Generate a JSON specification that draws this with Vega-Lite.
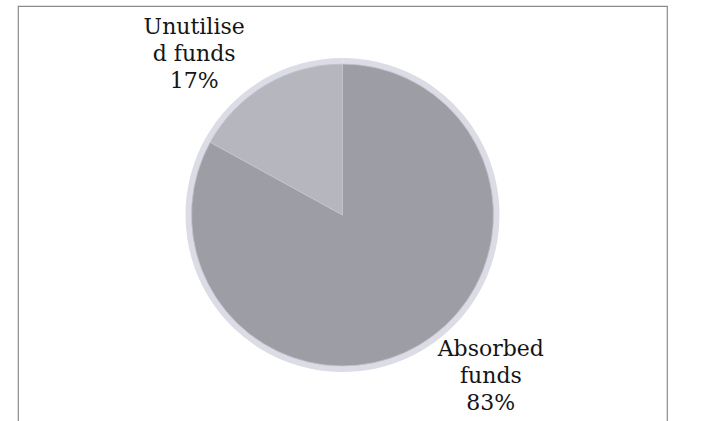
{
  "$schema": "https://vega.github.io/schema/vega-lite/v6.json",
  "width": 649,
  "height": 418,
  "padding": {"left": 18, "top": 6, "right": 55, "bottom": -3},
  "background": "white",
  "view": {"stroke": "#8a8a8a", "strokeWidth": 1.2},
  "config": {
    "text": {"font": "DejaVu Serif"}
  },
  "data": {
    "values": [
      {"category": "Absorbed funds", "label": "Absorbed\nfunds\n83%", "share": 83, "order": 1},
      {"category": "Unutilised funds", "label": "Unutilise\nd funds\n17%", "share": 17, "order": 2}
    ]
  },
  "encoding": {
    "theta": {"field": "share", "type": "quantitative", "stack": true},
    "order": {"field": "order", "type": "quantitative"}
  },
  "layer": [
    {
      "mark": {"type": "arc", "outerRadius": 157, "color": "#dcdce6"}
    },
    {
      "mark": {"type": "arc", "outerRadius": 151, "stroke": "#c4c4cc", "strokeWidth": 0.8},
      "encoding": {
        "color": {
          "field": "category",
          "type": "nominal",
          "scale": {"domain": ["Absorbed funds", "Unutilised funds"], "range": ["#9d9da5", "#b6b6be"]},
          "legend": null
        }
      }
    },
    {
      "mark": {
        "type": "text",
        "radius": 219,
        "thetaOffset": -0.21,
        "fontSize": 22,
        "lineBreak": "\n",
        "lineHeight": 27,
        "align": "center",
        "baseline": "middle",
        "dy": -27,
        "color": "#151515"
      },
      "encoding": {
        "text": {"field": "label", "type": "nominal"}
      }
    }
  ]
}
